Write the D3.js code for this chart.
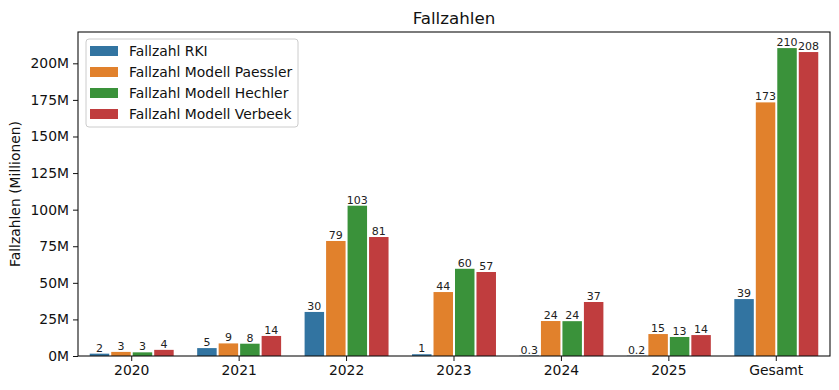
<!DOCTYPE html>
<html>
<head>
<meta charset="utf-8">
<script src="https://cdn.jsdelivr.net/npm/d3@7"></script>
<style>
  body { margin: 0; background: #fff; }
  svg { font-family: "DejaVu Sans", sans-serif; }
</style>
</head>
<body>
<div id="chart"></div>
<script>
// categories and series
const categories = ["2020", "2021", "2022", "2023", "2024", "2025", "Gesamt"];
const seriesNames = ["Fallzahl RKI", "Fallzahl Modell Paessler", "Fallzahl Modell Hechler", "Fallzahl Modell Verbeek"];
const seriesColors = ["#3274a1", "#e1812c", "#3a923a", "#c03d3e"];

// values in millions
const rki      = [1.6, 5.4, 30.1, 1.2, 0.3, 0.2, 38.9];
const paessler = [2.8, 8.6, 78.6, 43.7, 23.9, 15.0, 173.3];
const hechler  = [2.5, 8.4, 102.7, 59.6, 23.8, 13.0, 210.4];
const verbeek  = [4.2, 13.7, 81.3, 57.4, 36.9, 14.3, 207.7];
const seriesValues = [rki, paessler, hechler, verbeek];

const yTicks = [0, 25, 50, 75, 100, 125, 150, 175, 200];

const width = 839, height = 390;
const margin = { left: 78, right: 9, top: 32, bottom: 34 };

const svg = d3.select("#chart").append("svg")
  .attr("width", width)
  .attr("height", height);

const x = d3.scaleBand()
  .domain(categories)
  .range([margin.left, width - margin.right])
  .padding(0);

const xInner = d3.scaleBand()
  .domain(seriesNames)
  .range([x.bandwidth() * 0.1, x.bandwidth() * 0.9]);

const y = d3.scaleLinear()
  .domain([0, 221.4])
  .range([height - margin.bottom, margin.top]);

// flatten for drawing
const bars = [];
seriesNames.forEach((s, si) => {
  categories.forEach((c, ci) => {
    bars.push({ cat: c, series: s, si: si, value: seriesValues[si][ci] });
  });
});

const fmt = (v) => v < 1 ? d3.format(".1f")(v) : d3.format(".0f")(v);

svg.append("g")
  .selectAll("rect")
  .data(bars)
  .enter()
  .append("rect")
  .attr("x", (d) => x(d.cat) + xInner(d.series) + 1)
  .attr("width", xInner.bandwidth() - 2)
  .attr("y", (d) => y(d.value))
  .attr("height", (d) => y(0) - y(d.value))
  .attr("fill", (d) => seriesColors[d.si]);

// bar labels
svg.append("g")
  .selectAll("text")
  .data(bars)
  .enter()
  .append("text")
  .attr("x", (d) => x(d.cat) + xInner(d.series) + xInner.bandwidth() / 2)
  .attr("y", (d) => y(d.value) - 2)
  .attr("text-anchor", "middle")
  .style("font-size", "11px")
  .style("fill", "#222")
  .text((d) => fmt(d.value));

// axes
const xAxis = d3.axisBottom(x).tickSize(5).tickPadding(4);
const gx = svg.append("g")
  .attr("transform", `translate(0, ${height - margin.bottom})`)
  .call(xAxis);

const yAxis = d3.axisLeft(y).tickValues(yTicks).tickFormat((d) => d + "M").tickSize(5).tickPadding(4);
const gy = svg.append("g")
  .attr("transform", `translate(${margin.left}, 0)`)
  .call(yAxis);

[gx, gy].forEach((g) => {
  g.select(".domain").remove();
  g.selectAll("text").style("font-size", "13.9px").style("fill", "#111").style("font-family", "DejaVu Sans, sans-serif");
  g.selectAll("line").attr("stroke", "#111");
});

// frame
svg.append("rect")
  .attr("x", margin.left)
  .attr("y", margin.top)
  .attr("width", width - margin.left - margin.right)
  .attr("height", height - margin.top - margin.bottom)
  .attr("fill", "none")
  .attr("stroke", "#111")
  .attr("stroke-width", 1.1);

// title
svg.append("text")
  .attr("x", (margin.left + width - margin.right) / 2)
  .attr("y", 24)
  .attr("text-anchor", "middle")
  .style("font-size", "16.7px")
  .style("fill", "#111")
  .text("Fallzahlen");

// y label
svg.append("text")
  .attr("transform", `translate(20, ${(margin.top + height - margin.bottom) / 2}) rotate(-90)`)
  .attr("text-anchor", "middle")
  .style("font-size", "13.9px")
  .style("fill", "#111")
  .text("Fallzahlen (Millionen)");

// legend
const legend = svg.append("g").attr("transform", "translate(86, 39)");
legend.append("rect")
  .attr("width", 212)
  .attr("height", 88)
  .attr("rx", 3)
  .attr("fill", "#fff")
  .attr("fill-opacity", 0.8)
  .attr("stroke", "#ccc");

const items = legend.selectAll(".item")
  .data(seriesNames)
  .enter()
  .append("g")
  .attr("class", "item")
  .attr("transform", (d, i) => `translate(4, ${12 + i * 21})`);

items.append("rect")
  .attr("width", 28)
  .attr("height", 10)
  .attr("y", -5)
  .attr("fill", (d, i) => seriesColors[i]);

items.append("text")
  .attr("x", 39)
  .attr("y", 5)
  .style("font-size", "13.9px")
  .style("fill", "#111")
  .text((d) => d);
</script>
</body>
</html>
